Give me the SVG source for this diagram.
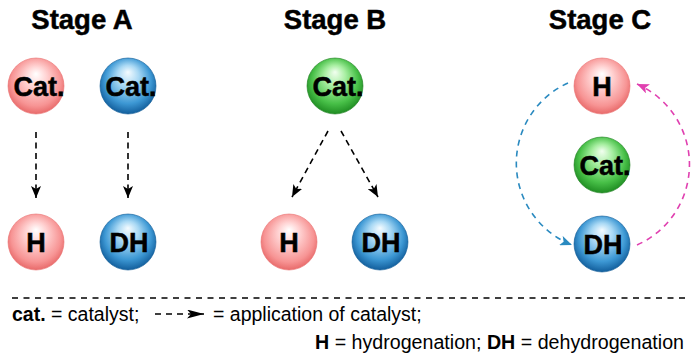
<svg xmlns="http://www.w3.org/2000/svg" width="699" height="362" viewBox="0 0 699 362">
<defs>
  <radialGradient id="gRed" cx="50%" cy="45%" r="55%" fx="50%" fy="28%">
    <stop offset="0" stop-color="#ffffff"/>
    <stop offset="0.35" stop-color="#ffd2d2"/>
    <stop offset="0.8" stop-color="#f79494"/>
    <stop offset="1" stop-color="#e86a6a"/>
  </radialGradient>
  <radialGradient id="gBlue" cx="50%" cy="45%" r="55%" fx="50%" fy="25%">
    <stop offset="0" stop-color="#f4fbff"/>
    <stop offset="0.35" stop-color="#a8d8f4"/>
    <stop offset="0.75" stop-color="#3d98d4"/>
    <stop offset="1" stop-color="#125e9c"/>
  </radialGradient>
  <radialGradient id="gGreen" cx="50%" cy="45%" r="55%" fx="50%" fy="25%">
    <stop offset="0" stop-color="#f2fff0"/>
    <stop offset="0.35" stop-color="#a6eea0"/>
    <stop offset="0.75" stop-color="#48c048"/>
    <stop offset="1" stop-color="#1f8c22"/>
  </radialGradient>
  <marker id="ahK" viewBox="0 0 12 10" refX="12" refY="5" markerWidth="12" markerHeight="10" markerUnits="userSpaceOnUse" orient="auto">
    <path d="M0,0 L12,5 L0,10 L3,5 z" fill="#000"/>
  </marker>
  <marker id="ahL" viewBox="0 0 17 9" refX="17" refY="4.5" markerWidth="17" markerHeight="9" markerUnits="userSpaceOnUse" orient="auto">
    <path d="M0,0 L17,4.5 L0,9 L4,4.5 z" fill="#000"/>
  </marker>
  <marker id="ahB" viewBox="0 0 12 10" refX="12" refY="5" markerWidth="12" markerHeight="10" markerUnits="userSpaceOnUse" orient="auto">
    <path d="M0,0 L12,5 L0,10 L3,5 z" fill="#2a8ac0"/>
  </marker>
  <marker id="ahM" viewBox="0 0 12 10" refX="12" refY="5" markerWidth="12" markerHeight="10" markerUnits="userSpaceOnUse" orient="auto">
    <path d="M0,0 L12,5 L0,10 L3,5 z" fill="#e040b0"/>
  </marker>
</defs>
<style>
  .title { font-family: "Liberation Sans", Arial, sans-serif; font-weight: bold; font-size: 27.5px; fill: #000; stroke: #000; stroke-width: 0.5; text-anchor: middle; }
  .lbl { font-family: "Liberation Sans", Arial, sans-serif; font-weight: bold; font-size: 27px; fill: #000; stroke: #000; stroke-width: 0.5; text-anchor: middle; }
  .leg { font-family: "Liberation Sans", Arial, sans-serif; font-size: 19.5px; fill: #000; }
  .red { fill: url(#gRed); stroke: #ea7070; stroke-width: 0.6; }
  .blue { fill: url(#gBlue); stroke: #0f5a96; stroke-width: 0.6; }
  .green { fill: url(#gGreen); stroke: #1e8020; stroke-width: 0.6; }
  .blk { fill: none; stroke: #000; stroke-width: 1.6; stroke-dasharray: 6 4.5; marker-end: url(#ahK); }
  .cyc { fill: none; stroke-width: 1.6; stroke-dasharray: 6 5; }
</style>

<text class="title" x="82" y="29">Stage A</text>
<text class="title" x="335" y="29">Stage B</text>
<text class="title" x="600" y="29">Stage C</text>

<g id="A-cat-red"><circle class="red" cx="36" cy="86" r="28"/><text class="lbl" x="39" y="95.5">Cat.</text></g>
<g id="A-cat-blue"><circle class="blue" cx="128" cy="86" r="28"/><text class="lbl" x="131" y="95.5">Cat.</text></g>
<g id="A-H"><circle class="red" cx="36" cy="242" r="28"/><text class="lbl" x="36" y="251.5">H</text></g>
<g id="A-DH"><circle class="blue" cx="128" cy="242" r="28"/><text class="lbl" x="129" y="251.5">DH</text></g>

<g id="B-cat"><circle class="green" cx="335" cy="86" r="28"/><text class="lbl" x="338" y="95.5">Cat.</text></g>
<g id="B-H"><circle class="red" cx="289" cy="242" r="28"/><text class="lbl" x="289" y="251.5">H</text></g>
<g id="B-DH"><circle class="blue" cx="380" cy="242" r="28"/><text class="lbl" x="381" y="251.5">DH</text></g>

<g id="C-H"><circle class="red" cx="602" cy="86" r="28"/><text class="lbl" x="602" y="95.5">H</text></g>
<g id="C-cat"><circle class="green" cx="602" cy="165" r="28"/><text class="lbl" x="605" y="174.5">Cat.</text></g>
<g id="C-DH"><circle class="blue" cx="602" cy="244" r="28"/><text class="lbl" x="603" y="253.5">DH</text></g>

<g id="connectors">
  <line class="blk" x1="36" y1="132" x2="36" y2="198"/>
  <line class="blk" x1="128" y1="132" x2="128" y2="198"/>
  <line class="blk" x1="328" y1="131" x2="292" y2="197"/>
  <line class="blk" x1="341" y1="131" x2="378" y2="197"/>
  <path class="cyc" stroke="#2a8ac0" marker-end="url(#ahB)" d="M568,83 A88,88 0 0 0 572,245"/>
  <path class="cyc" stroke="#e040b0" marker-end="url(#ahM)" d="M637,245 A88,88 0 0 0 637,84"/>
</g>

<g id="legend">
  <line x1="12" y1="298" x2="690" y2="298" stroke="#000" stroke-width="1.4" stroke-dasharray="6 5.5"/>
  <text class="leg" x="12" y="321"><tspan font-weight="bold">cat.</tspan> = catalyst;</text>
  <line x1="155" y1="314" x2="204" y2="314" stroke="#000" stroke-width="1.6" stroke-dasharray="6 5" marker-end="url(#ahL)"/>
  <text class="leg" x="213" y="321">= application of catalyst;</text>
  <text class="leg" x="315" y="349" textLength="369" lengthAdjust="spacingAndGlyphs"><tspan font-weight="bold">H</tspan> = hydrogenation; <tspan font-weight="bold">DH</tspan> = dehydrogenation</text>
</g>
</svg>
